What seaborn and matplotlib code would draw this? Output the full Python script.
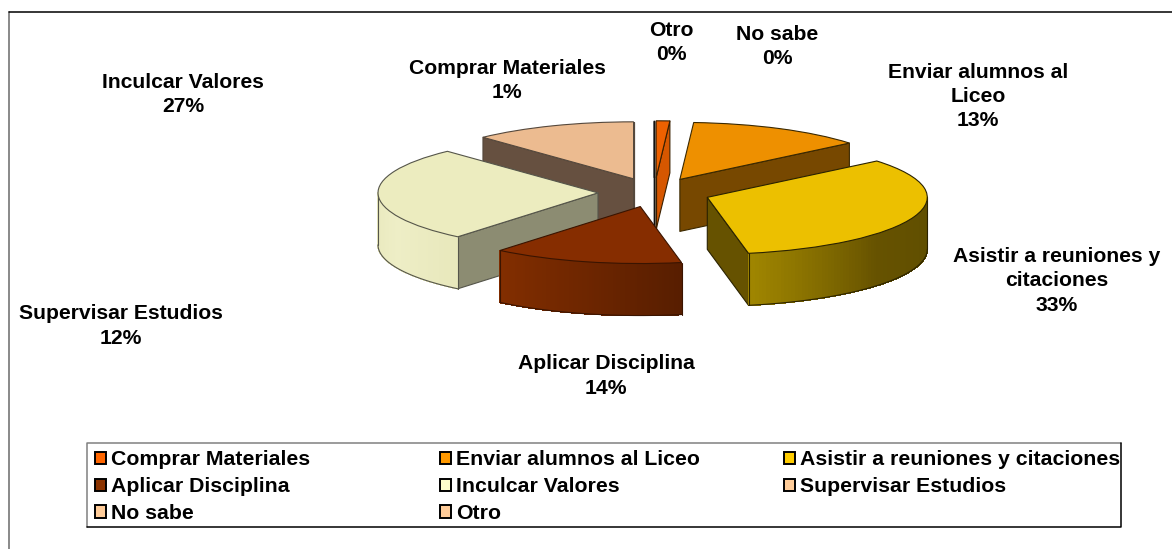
import numpy as np
import matplotlib
matplotlib.use("Agg")
import matplotlib.pyplot as plt
from matplotlib.patches import Patch
import seaborn as sns

# data
categories = ["Comprar Materiales", "Enviar alumnos al Liceo", "Asistir a reuniones y citaciones",
              "Aplicar Disciplina", "Inculcar Valores", "Supervisar Estudios", "No sabe", "Otro"]
values = [1, 13, 33, 14, 27, 12, 0, 0]

# the data labels are printed in this order in the original
label_names = ["Otro", "No sabe", "Enviar alumnos al\nLiceo", "Asistir a reuniones y\ncitaciones",
               "Aplicar Disciplina", "Supervisar Estudios", "Inculcar Valores", "Comprar Materiales"]
label_values = [0, 0, 13, 33, 14, 12, 27, 1]

# styles
top_colors = ["#EE6100", "#EE9000", "#ECC000", "#862D00", "#ECECBF", "#ECBB90", "#F0C8A0", "#F0C090"]
side_colors = ["#D65700", "#774800", "#665200", "#802E00", "#8C8C72", "#665040", "#806040", "#806040"]
arc_colors = [["#D65700"], ["#774800"], ["#A08600", "#665200", "#5F4E00"], ["#822E00", "#6E2600", "#581E00"],
              ["#E8E8BC", "#EEEEC6", "#E8E8BC"], ["#665040"], ["#806040"], ["#806040"]]
edge_colors = ["#3A2000", "#3A2800", "#2A2200", "#3A1400", "#55554A", "#55483C", "#111111", "#111111"]
legend_colors = ["#FF6600", "#FF9900", "#FFCC00", "#8B3300", "#FFFFCC", "#FFCC99", "#FFCC99", "#FFCC99"]
draw_order = [6, 7, 0, 5, 1, 4, 2, 3]

W, H = 1172, 549
cx, cy = 654.3, 192.4   # pie centre in pixels
rx, ry = 220.0, 57.0    # top ellipse radii in pixels
depth = 52.0 / ry       # wall height in y units

sns.set_style("white")
plt.rcParams["font.family"] = ["Liberation Sans", "DejaVu Sans"]
plt.rcParams["font.weight"] = "bold"

fig = plt.figure(figsize=(W / 100, H / 100), dpi=100)
ax = fig.add_axes([0, 0, 1, 1])

wedges, _ = ax.pie(values, explode=[0.256] * len(values), colors=top_colors,
                   startangle=90, counterclock=False, radius=1,
                   wedgeprops={"linewidth": 0.8})
ax.set_aspect("auto")
ax.set_xlim(-cx / rx, (W - cx) / rx)
ax.set_ylim(-(H - cy) / ry, cy / ry)


def radial_wall(w, phi, color, edge, z):
    px, py = w.center
    ex = px + np.cos(np.radians(phi))
    ey = py + np.sin(np.radians(phi))
    ax.fill([px, ex, ex, px], [py, ey, ey - depth, py - depth],
            facecolor=color, edgecolor=edge, linewidth=0.8, zorder=z, joinstyle="round")


def arc_wall(w, colors, edge, z):
    lo, hi = max(w.theta1, -180), min(w.theta2, 0)
    if lo >= hi:
        return
    px, py = w.center
    edges = np.radians(np.linspace(lo, hi, 81))
    xs = px + np.cos(edges)
    ys = py + np.sin(edges)
    pal = sns.blend_palette(colors if len(colors) > 1 else colors * 2, n_colors=80)
    for k in range(80):
        ax.fill([xs[k], xs[k + 1], xs[k + 1], xs[k]],
                [ys[k], ys[k + 1], ys[k + 1] - depth, ys[k] - depth],
                facecolor=pal[k], edgecolor=pal[k], linewidth=0.5, antialiased=False, zorder=z)
    ax.plot(xs, ys - depth, color=edge, lw=0.8, zorder=z)
    ax.plot([xs[0], xs[0]], [ys[0], ys[0] - depth], color=edge, lw=0.8, zorder=z)
    ax.plot([xs[-1], xs[-1]], [ys[-1], ys[-1] - depth], color=edge, lw=0.8, zorder=z)


for rank, i in enumerate(draw_order):
    w = wedges[i]
    z = 10 + rank
    if np.cos(np.radians(w.theta1)) > -1e-6:
        radial_wall(w, w.theta1, side_colors[i], edge_colors[i], z)
    if np.cos(np.radians(w.theta2)) < 1e-6:
        radial_wall(w, w.theta2, side_colors[i], edge_colors[i], z)
    arc_wall(w, arc_colors[i], edge_colors[i], z)
    w.set_edgecolor(edge_colors[i])
    w.set_zorder(z + 0.5)

# data labels, placed in figure pixels
label_pos = [(671.5, 42.5), (777, 46.5), (978, 96.5), (1057, 281), (606, 376), (121, 326), (183, 94.5), (507, 80.5)]
for name, val, (px, py) in zip(label_names, label_values, label_pos):
    fig.text(px / W, 1 - py / H, f"{name}\n{val}%", ha="center", va="center", fontsize=15.2,
             fontweight="bold", color="black", linespacing=1.36, zorder=30)

# legend, row by row in three columns
ncols = 3
col_x = [89, 434, 778]
for c in range(ncols):
    idx = list(range(c, len(categories), ncols))
    handles = [Patch(facecolor=legend_colors[i], edgecolor="black", linewidth=1.4) for i in idx]
    leg = fig.legend(handles, [categories[i] for i in idx], loc="upper left",
                     bbox_to_anchor=(col_x[c] / W, 1 - 444 / H), frameon=False, fontsize=15.3,
                     handlelength=0.52, handleheight=0.52, handletextpad=0.2, labelspacing=0.37,
                     borderpad=0.3, borderaxespad=0, labelcolor="black")
    leg.set_zorder(30)


def frame_line(xs, ys, color, lw):
    # pixel positions measured from the top left corner
    fig.add_artist(plt.Line2D([x / W for x in xs], [1 - y / H for y in ys], color=color, linewidth=lw))


# legend box: grey top and left, black bottom and right
frame_line([87, 87, 1120.5], [526.5, 443, 443], "#808080", 1.1)
frame_line([87, 1120.5, 1120.5], [526.5, 526.5, 443], "black", 1.1)
# chart border
frame_line([9.5, 9.5], [H, 12], "#808080", 1.3)
frame_line([9.5, W], [12, 12], "black", 1.1)

fig.savefig("out.png", dpi=100)
